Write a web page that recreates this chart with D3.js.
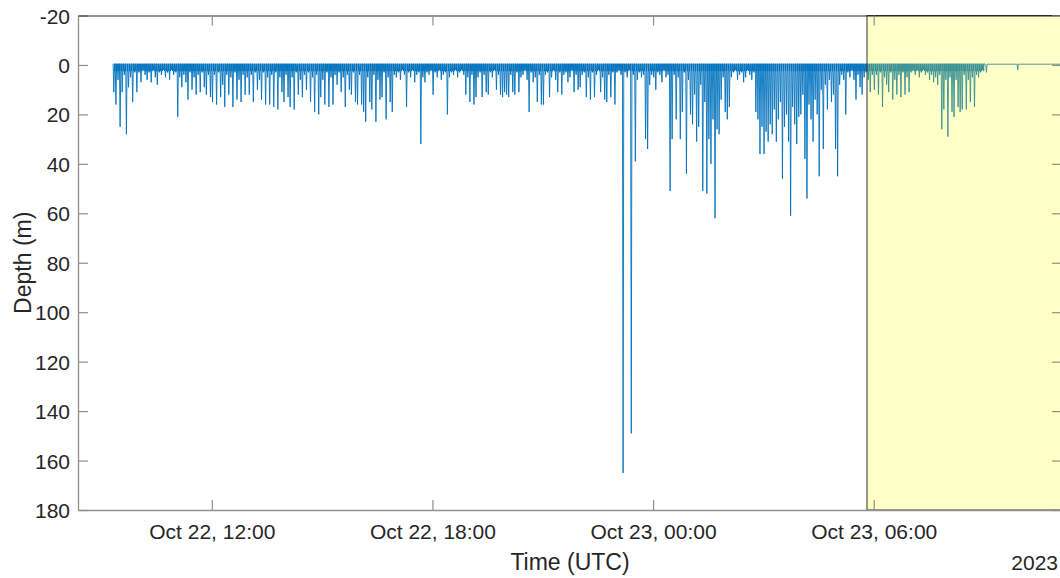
<!DOCTYPE html>
<html><head><meta charset="utf-8">
<script src="https://cdn.jsdelivr.net/npm/d3@7"></script>
<style>
body{margin:0;background:#fff}
svg{display:block}
text{font-family:"Liberation Sans",Arial,Helvetica,sans-serif;fill:#262626}
</style>
</head><body>
<svg id="chart" width="1060" height="578"></svg>
<script>
// ---- data: maximum depth (m) of each dive, by segment (evenly spaced dives within a segment)
const segmentStarts = [
  "2023-10-22T09:19:00Z","2023-10-22T10:00:00Z","2023-10-22T11:00:00Z","2023-10-22T12:00:00Z",
  "2023-10-22T13:00:00Z","2023-10-22T14:00:00Z","2023-10-22T15:00:00Z","2023-10-22T16:00:00Z",
  "2023-10-22T17:00:00Z","2023-10-22T18:00:00Z","2023-10-22T19:00:00Z","2023-10-22T20:00:00Z",
  "2023-10-22T21:00:00Z","2023-10-22T22:00:00Z","2023-10-22T23:00:00Z","2023-10-23T00:00:00Z",
  "2023-10-23T01:00:00Z","2023-10-23T02:00:00Z","2023-10-23T03:00:00Z","2023-10-23T04:00:00Z",
  "2023-10-23T05:00:00Z","2023-10-23T06:00:00Z","2023-10-23T07:00:00Z","2023-10-23T08:00:00Z"
];
const segmentEnd = "2023-10-23T09:00:00Z";
const h09 = [11, 16, 6, 25, 11, 4, 28, 9, 5, 15, 3, 11];
const h10 = [3, 7, 2, 4, 6, 3, 7, 2, 5, 8, 3, 4, 2, 5, 3, 6, 2, 4];
const h11 = [3, 21, 5, 9, 4, 7, 14, 3, 10, 5, 12, 4, 11, 3, 9, 12, 4, 13];
const h12 = [15, 4, 16, 3, 13, 8, 17, 4, 12, 5, 17, 3, 14, 6, 15, 4, 12, 5];
const h13 = [12, 4, 15, 3, 10, 6, 14, 3, 16, 5, 16, 4, 17, 3, 18, 5, 11, 15];
const h14 = [4, 13, 17, 5, 18, 3, 12, 6, 13, 4, 10, 3, 15, 5, 19, 4, 20, 13];
const h15 = [6, 16, 3, 17, 5, 16, 4, 8, 3, 11, 5, 17, 4, 10, 12, 3, 15, 16];
const h16 = [4, 16, 19, 23, 5, 15, 18, 4, 23, 6, 14, 13, 3, 22, 5, 15, 19, 4];
const h17 = [5, 3, 6, 2, 4, 17, 3, 5, 2, 7, 4, 3, 32, 5, 7, 3, 4, 2];
const h18 = [12, 3, 5, 2, 6, 4, 3, 20, 5, 3, 4, 2, 5, 3, 2, 4, 12, 5];
const h19 = [15, 4, 16, 13, 5, 3, 13, 4, 11, 12, 3, 5, 2, 10, 4, 12, 13, 11];
const h20 = [12, 13, 4, 11, 12, 3, 11, 5, 4, 2, 6, 19, 3, 7, 5, 15, 4, 16];
const h21 = [16, 4, 3, 13, 5, 2, 6, 11, 3, 12, 4, 3, 7, 5, 2, 11, 4, 10];
const h22 = [9, 4, 3, 13, 5, 14, 3, 13, 4, 2, 11, 5, 14, 15, 4, 13, 3, 16];
const h23 = [3, 2, 4, 165, 3, 5, 2, 149, 4, 39, 6, 3, 5, 4, 30, 34, 8, 4];
const h00 = [5, 10, 3, 4, 7, 2, 5, 4, 51, 30, 4, 22, 5, 30, 19, 3, 44, 6];
const h01 = [20, 24, 12, 31, 25, 8, 51, 15, 52, 30, 40, 22, 62, 26, 28, 14, 5, 19];
const h02 = [22, 17, 5, 3, 2, 6, 4, 3, 7, 5, 2, 4, 6, 3, 19, 22, 36, 25];
const h03 = [36, 27, 31, 24, 28, 18, 31, 22, 15, 46, 25, 20, 31, 61, 17, 24, 32, 21];
const h04 = [20, 12, 38, 54, 16, 22, 31, 14, 20, 45, 10, 34, 8, 18, 6, 15, 12, 34];
const h05 = [45, 8, 4, 6, 20, 3, 5, 2, 6, 14, 4, 9, 12, 5, 3, 6, 11, 4];
const h06 = [10, 4, 12, 3, 17, 5, 8, 11, 3, 14, 6, 12, 4, 13, 3, 12, 5, 11];
const h07 = [3, 2, 4, 2, 5, 3, 2, 4, 3, 6, 4, 7, 5, 8, 4, 26, 18, 6];
const h08 = [29, 5, 19, 21, 6, 17, 19, 18, 4, 18, 6, 15, 5, 17, 4, 5, 3, 2];
const segmentDepths = [h09,h10,h11,h12,h13,h14,h15,h16,h17,h18,h19,h20,h21,h22,h23,h00,h01,h02,h03,h04,h05,h06,h07,h08];
const surfaceDepth = -0.5;   // surface reading between dives
const surfaceChopDepth = 2.5; // shallow surface activity between dives
// after the last dive: near-flat surface record
const tailTimes = ["2023-10-23T09:00:00Z","2023-10-23T09:03:00Z","2023-10-23T09:04:00Z","2023-10-23T09:05:00Z",
                   "2023-10-23T09:54:00Z","2023-10-23T09:55:00Z","2023-10-23T09:56:00Z","2023-10-23T11:10:00Z"];
const tailDepths = [-0.5, 0, 3, -0.3, -0.3, 2, -0.3, -0.3];

// axes
const xDomain = ["2023-10-22T08:21:40Z","2023-10-23T11:07:15Z"];
const yDomain = [-20, 180];
const xTickValues = ["2023-10-22T12:00:00Z","2023-10-22T18:00:00Z","2023-10-23T00:00:00Z","2023-10-23T06:00:00Z"];
const yTickValues = [-20, 0, 20, 40, 60, 80, 100, 120, 140, 160, 180];
const highlightRange = ["2023-10-23T05:49:04Z","2023-10-23T12:00:00Z"];
const xLabel = "Time (UTC)", yLabel = "Depth (m)", yearLabel = "2023";

// ---- build series
const pts = [];
segmentDepths.forEach((arr, k) => {
  const s = +new Date(segmentStarts[k]);
  const e = +new Date(k + 1 < segmentStarts.length ? segmentStarts[k + 1] : segmentEnd);
  const w = (e - s) / arr.length;
  arr.forEach((d, i) => {
    const t0 = s + i * w;
    pts.push({t: new Date(t0), d: surfaceDepth});
    pts.push({t: new Date(t0 + 0.33 * w), d: d});
    pts.push({t: new Date(t0 + 0.66 * w), d: surfaceDepth});
    pts.push({t: new Date(t0 + 0.83 * w), d: surfaceChopDepth});
  });
});
tailTimes.forEach((t, i) => pts.push({t: new Date(t), d: tailDepths[i]}));

// ---- layout
const L = 78, R = 1062, T = 15.5, B = 510;
const svg = d3.select("#chart");
const x = d3.scaleUtc().domain(xDomain.map(d => new Date(d))).range([L, R]);
const y = d3.scaleLinear().domain(yDomain).range([T, B]);

svg.append("defs").append("clipPath").attr("id", "clip")
  .append("rect").attr("x", L).attr("y", T).attr("width", R - L).attr("height", B - T);

const line = d3.line().x(p => x(p.t)).y(p => y(p.d));
svg.append("path").datum(pts).attr("clip-path", "url(#clip)")
  .attr("d", line).attr("fill", "none").attr("stroke", "#0072BD")
  .attr("stroke-width", 0.9).attr("stroke-linejoin", "miter");

// highlight patch (semi-transparent, drawn over the line)
const hx0 = x(new Date(highlightRange[0])), hx1 = x(new Date(highlightRange[1]));
svg.append("rect").attr("x", hx0).attr("y", T).attr("width", hx1 - hx0).attr("height", B - T)
  .attr("fill", "#ffff00").attr("fill-opacity", 0.22)
  .attr("stroke", "#333").attr("stroke-width", 1);

const fs = 21;
// left axis
const gl = svg.append("g").attr("transform", `translate(${L},0)`)
  .call(d3.axisLeft(y).tickValues(yTickValues).tickSize(-10).tickSizeOuter(0).tickPadding(8)
    .tickFormat(d => String(d)));
// bottom axis
const gb = svg.append("g").attr("transform", `translate(0,${B})`)
  .call(d3.axisBottom(x).tickValues(xTickValues.map(d => new Date(d))).tickSize(-10).tickSizeOuter(0)
    .tickPadding(14).tickFormat(d3.utcFormat("%b %d, %H:%M")));
// top and right ticks (no labels)
const gt = svg.append("g").attr("transform", `translate(0,${T})`)
  .call(d3.axisTop(x).tickValues(xTickValues.map(d => new Date(d))).tickSize(-10).tickSizeOuter(0).tickFormat(""));
const gr = svg.append("g").attr("transform", `translate(${R},0)`)
  .call(d3.axisRight(y).tickValues(yTickValues).tickSize(-10).tickSizeOuter(0).tickFormat(""));

[gl, gb, gr].forEach(g => {
  g.select(".domain").attr("stroke", "#8f8f8f").attr("stroke-width", 1.3);
  g.selectAll(".tick line").attr("stroke", "#8f8f8f").attr("stroke-width", 1.2);
});
gt.select(".domain").attr("stroke", "#262626").attr("stroke-width", 1);
gt.selectAll(".tick line").attr("stroke", "#8f8f8f").attr("stroke-width", 1.2);
[gl, gb].forEach(g => g.selectAll(".tick text")
  .attr("font-size", fs).attr("font-family", '"Liberation Sans",Arial,sans-serif').attr("fill", "#262626"));
gl.selectAll(".tick text").attr("dy", "0.36em");

// labels
svg.append("text").attr("x", (L + R) / 2).attr("y", 570).attr("text-anchor", "middle")
  .attr("font-size", 23).text(xLabel);
svg.append("text").attr("transform", `translate(31,${(T + B) / 2}) rotate(-90)`).attr("text-anchor", "middle")
  .attr("font-size", 23).text(yLabel);
svg.append("text").attr("x", 1058).attr("y", 570).attr("text-anchor", "end")
  .attr("font-size", fs).text(yearLabel);
</script>
</body></html>
